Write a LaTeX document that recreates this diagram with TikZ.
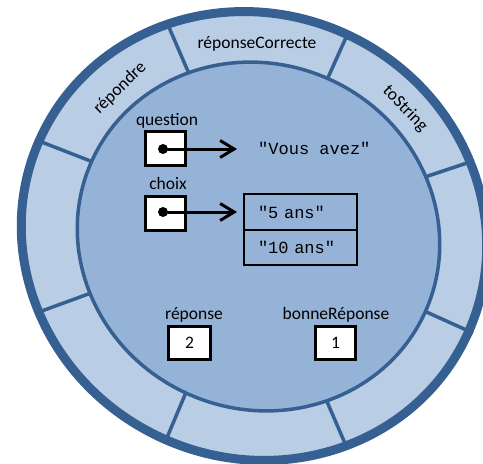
\documentclass[tikz,border=0pt]{standalone}
\usepackage{fontspec}
\setmainfont{Carlito}
\newfontfamily\codefont{Liberation Mono}
\usetikzlibrary{arrows.meta}
\definecolor{ringlight}{HTML}{B9CDE5}
\definecolor{discmid}{HTML}{95B3D7}
\definecolor{darkedge}{HTML}{376092}
\begin{document}
\begin{tikzpicture}[x=1pt,y=-1pt,
  lbl/.style={font=\fontsize{17.5}{20}\selectfont, inner sep=0pt, anchor=base},
  codetxt/.style={font=\codefont\fontsize{17}{20}\selectfont, inner sep=0pt},
  refbox/.style={draw=black, line width=3pt, fill=white, minimum width=40pt, minimum height=34pt, inner sep=0pt, font=\fontsize{17.5}{20}\selectfont},
  celltxt/.style={draw=black, line width=1.4pt, minimum width=113pt, text width=85pt, inner xsep=14pt, inner ysep=0pt, align=left, font=\codefont\fontsize{17}{20}\selectfont},
  refdot/.style={circle, fill=black, minimum size=10pt, inner sep=0pt},
  pointer/.style={line width=3pt, -{Straight Barb[length=14pt,width=17pt,line width=3pt]}},
  divider/.style={darkedge, line width=3.5pt},
  outershape/.style={rotate around={-25.2:(254,236)}},
  innershape/.style={rotate around={-24.7:(258.5,236.5)}}
]
\useasboundingbox (0,0) rectangle (483,464);
% outer ring
\fill[ringlight, outershape] (254,236) ellipse [x radius=235pt, y radius=222pt];
% dividers
\coordinate (d1i) at (190,76);  \coordinate (d1o) at (168,25);
\coordinate (d2i) at (326,82);  \coordinate (d2o) at (348,33);
\coordinate (d3i) at (422,178); \coordinate (d3o) at (473,161);
\coordinate (d4i) at (422,310); \coordinate (d4o) at (473,333);
\coordinate (d5i) at (325,397); \coordinate (d5o) at (347,448);
\coordinate (d6i) at (187,390); \coordinate (d6o) at (166,440);
\coordinate (d7i) at (91,293);  \coordinate (d7o) at (39,312);
\coordinate (d8i) at (93,162);  \coordinate (d8o) at (39,141);
\foreach \k in {1,...,8} \draw[divider] (d\k i) -- (d\k o);
% inner disc
\filldraw[fill=discmid, draw=darkedge, line width=3.5pt, innershape] (258.5,236.5) ellipse [x radius=183pt, y radius=172.5pt];
% outer border
\draw[darkedge, line width=9pt, outershape] (254,236) ellipse [x radius=235pt, y radius=222pt];
% ring labels
\node[lbl] (rc) at (257,48) {réponseCorrecte};
\node[font=\fontsize{17.5}{20}\selectfont, inner sep=0pt, rotate=44] (rep) at (120,88) {répondre};
\node[font=\fontsize{17.5}{20}\selectfont, inner sep=0pt, rotate=-46] (ts) at (405,109) {toString};
% question
\node[lbl] (qlbl) at (167,125) {question};
\node[refbox] (qbox) at (165.5,148.5) {};
\node[refdot] (qdot) at (163,149) {};
\coordinate (qend) at (237,149);
\node[codetxt, anchor=base west] (qtxt) at (258,154) {"Vous avez"};
\draw[pointer] (qdot.center) -- (qend);
% choix
\node[lbl] (clbl) at (168,189) {choix};
\node[refbox] (cbox) at (165.5,213.5) {};
\node[refdot] (cdot) at (163,212) {};
\coordinate (cend) at (237,212);
\node[celltxt, minimum height=36pt] (cell1) at (300.5,212) {"5 ans"};
\node[celltxt, minimum height=35pt] (cell2) at (300.5,247.5) {"10 ans"};
\draw[pointer] (cdot.center) -- (cend);
% reponse
\node[lbl] (rlbl) at (194,319) {réponse};
\node[refbox, minimum width=42pt, minimum height=33pt] (rbox) at (189.5,343) {2};
% bonneReponse
\node[lbl] (blbl) at (336,319) {bonneRéponse};
\node[refbox, minimum width=40pt, minimum height=33pt] (bbox) at (335.5,343) {1};
\end{tikzpicture}
\end{document}
